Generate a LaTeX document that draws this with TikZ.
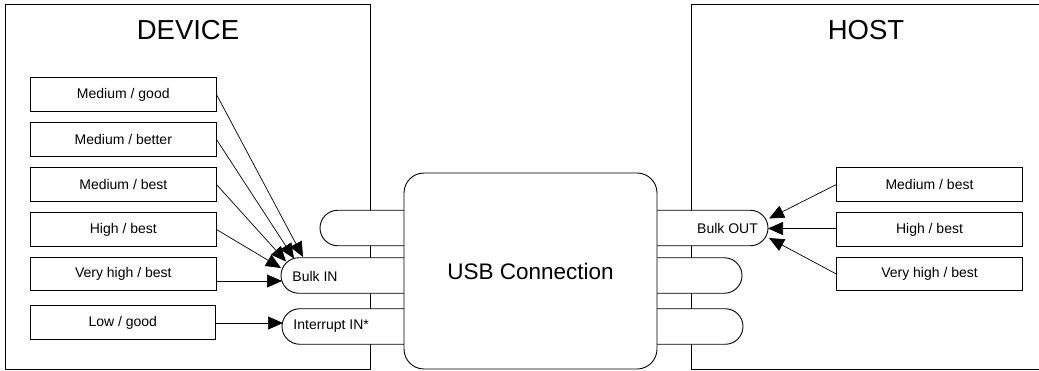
\documentclass[tikz,border=0pt]{standalone}
\usepackage{fontspec}
\setmainfont{Liberation Sans}
\usetikzlibrary{shapes.misc,arrows.meta}
\begin{document}
\begin{tikzpicture}[x=1pt,y=-1pt,
  line width=0.9pt,
  frame/.style={draw,inner sep=0pt},
  rbox/.style={draw,inner sep=0pt,minimum width=185.5pt,minimum height=33.5pt,font=\fontsize{14}{16}\selectfont},
  stad/.style={draw,fill=white,rounded rectangle,inner sep=0pt,minimum height=35.5pt},
  usb/.style={draw,fill=white,rounded corners=20pt,inner sep=0pt,minimum width=253pt,minimum height=196pt,font=\fontsize{22.5}{26}\selectfont},
  lbl/.style={inner sep=0pt,font=\fontsize{14}{16}\selectfont},
  ttl/.style={inner sep=0pt,font=\fontsize{27.5}{30}\selectfont},
  arr/.style={-{Triangle[length=15pt,width=13pt]},line width=0.7pt}]
\clip (0,0) rectangle (1039,370);
% outer frames
\node[frame,minimum width=365pt,minimum height=365pt] (device) at (187.5,186.5) {};
\node[frame,minimum width=360pt,minimum height=365pt] (host) at (871,186.5) {};
\node[ttl] (devt) at (188,30) {DEVICE};
\node[ttl] (hostt) at (866,30) {HOST};
% left boxes
\node[rbox] (l1) at (123.3,94.5) {Medium / good};
\node[rbox] (l2) at (123.3,139.5) {Medium / better};
\node[rbox] (l3) at (123.3,184.5) {Medium / best};
\node[rbox] (l4) at (123.3,229.5) {High / best};
\node[rbox] (l5) at (123.3,274) {Very high / best};
\node[rbox] (l6) at (122.8,322.5) {Low / good};
% right boxes
\node[rbox] (r1) at (929.5,184.5) {Medium / best};
\node[rbox] (r2) at (929.5,229.5) {High / best};
\node[rbox] (r3) at (929.5,274) {Very high / best};
% stadiums (endpoints)
\node[stad,minimum width=130pt] (lemp) at (385,228) {};
\node[stad,minimum width=160pt] (bin) at (361,275.5) {};
\node[stad,minimum width=160pt] (iin) at (362,326.5) {};
\node[stad,minimum width=160pt] (bout) at (688,228) {};
\node[stad,minimum width=140pt] (remp) at (672,275.5) {};
\node[stad,minimum width=140pt] (remp2) at (673,326.5) {};
% USB box
\node[usb] (usb) at (530.5,271) {USB Connection};
% stadium labels
\node[lbl,anchor=west] (binl) at (292,276) {Bulk IN};
\node[lbl,anchor=west] (iinl) at (293,326.5) {Interrupt IN*};
\node[lbl] (boutl) at (727.5,228) {Bulk OUT};
% arrow tips
\coordinate (t1) at (303,257);
\coordinate (t2) at (294,258.5);
\coordinate (t3) at (286,261.5);
\coordinate (t4) at (281,268);
\coordinate (t5) at (282,281);
\coordinate (t6) at (283,323);
\coordinate (u1) at (769,218.5);
\coordinate (u2) at (768,228.5);
\coordinate (u3) at (769,238);
\draw[arr] (l1.east) -- (t1);
\draw[arr] (l2.east) -- (t2);
\draw[arr] (l3.east) -- (t3);
\draw[arr] (l4.east) -- (t4);
\draw[arr] (l5.east |- t5) -- (t5);
\draw[arr] (l6.east |- t6) -- (t6);
\draw[arr] (r1.west) -- (u1);
\draw[arr] (r2.west |- u2) -- (u2);
\draw[arr] (r3.west) -- (u3);
\end{tikzpicture}
\end{document}
